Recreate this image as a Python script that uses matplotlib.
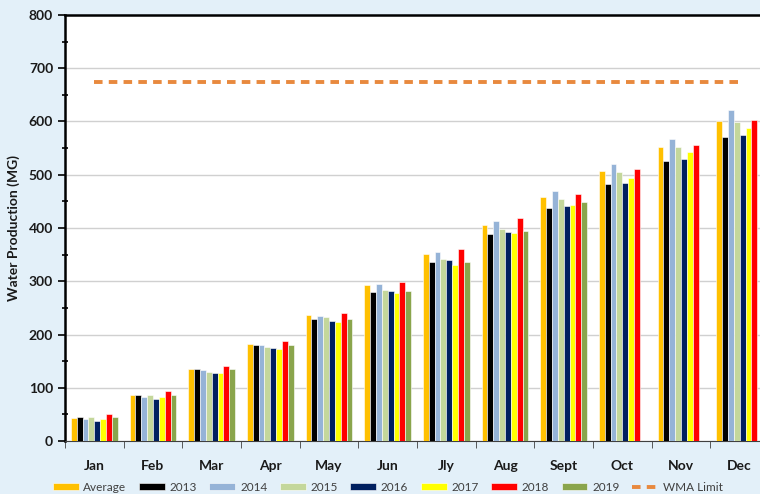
import matplotlib.pyplot as plt
import numpy as np

plt.rcParams.update({"font.family": ["Lato", "DejaVu Sans"]})

months = ["Jan", "Feb", "Mar", "Apr", "May", "Jun", "Jly", "Aug",
          "Sept", "Oct", "Nov", "Dec"]
series_names = ["Average", "2013", "2014", "2015", "2016", "2017", "2018", "2019"]

average = [44, 86, 135, 183, 237, 293, 351, 406, 458, 507, 553, 600]
y2013 = [45, 86, 135, 181, 230, 279, 336, 389, 438, 483, 526, 570]
y2014 = [42, 83, 133, 180, 235, 294, 354, 414, 470, 520, 568, 622]
y2015 = [46, 86, 130, 176, 233, 284, 341, 398, 454, 505, 552, 599]
y2016 = [37, 79, 128, 175, 225, 282, 339, 392, 441, 485, 530, 574]
y2017 = [41, 83, 128, 173, 224, 277, 331, 390, 443, 494, 543, 588]
y2018 = [51, 94, 140, 188, 241, 299, 360, 418, 464, 511, 556, 602]
y2019 = [45, 86, 135, 181, 230, 282, 337, 395, 448, None, None, None]
wma_limit = [675] * 12

colors = ["#FFC000", "#000000", "#95B3D7", "#C4D79B", "#002060",
          "#FFFF00", "#FF0000", "#8AA54C"]

fig = plt.figure(figsize=(7.6, 4.94), dpi=100, facecolor="#e3f0f9")
ax = fig.add_axes([65 / 760, 53 / 494, 704 / 760, 426 / 494])
ax.set_facecolor("white")

x = np.arange(len(months))
width = 0.1
data = [average, y2013, y2014, y2015, y2016, y2017, y2018, y2019]
handles = []
for i, (name, vals, c) in enumerate(zip(series_names, data, colors)):
    v = np.array([np.nan if a is None else a for a in vals], dtype=float)
    h = ax.bar(x + (i - 3.5) * width, v, width, color=c, edgecolor="white",
               linewidth=0.4, label=name, zorder=3)
    handles.append(h)

line, = ax.plot(x, wma_limit, color="#E8893E", lw=2.8, ls=(0, (2.2, 1.6)),
                label="WMA Limit", zorder=4)
handles.append(line)

ax.set_ylim(0, 800)
ax.set_xlim(-0.5, 11.5)
ax.set_yticks(np.arange(0, 801, 100))
ax.set_yticks(np.arange(50, 800, 100), minor=True)
ax.set_xticks(x)
ax.set_xticklabels(months)
ax.set_xticks(np.arange(-0.5, 12, 1), minor=True)
ax.grid(axis="y", color="#d0d0d0", lw=1, zorder=0)
ax.tick_params(axis="x", which="major", length=0, pad=14)
ax.tick_params(axis="x", which="minor", length=5, direction="out", color="#404040")
ax.tick_params(axis="y", which="major", length=5, direction="out", width=1.2)
ax.tick_params(axis="y", which="minor", length=5, direction="inout", width=1.2)
for lab in ax.get_xticklabels() + ax.get_yticklabels():
    lab.set_fontweight("bold")
    lab.set_fontsize(10)
    lab.set_color("#1a1a1a")

for side in ["left", "top"]:
    ax.spines[side].set_linewidth(1.8)
    ax.spines[side].set_color("black")
ax.spines["bottom"].set_color("#404040")
ax.spines["right"].set_visible(False)

ax.set_ylabel("Water Production (MG)", fontsize=10, fontweight="bold",
              color="#1a1a1a", labelpad=6)

fig.legend(handles, [h.get_label() for h in handles], loc="center",
           bbox_to_anchor=(0.51, 0.014), ncol=9, frameon=False, fontsize=8.5,
           handlelength=2.2, handleheight=0.6, columnspacing=1.05,
           handletextpad=0.4, labelcolor="#404040")

fig.savefig("out.png", dpi=100, facecolor=fig.get_facecolor())
